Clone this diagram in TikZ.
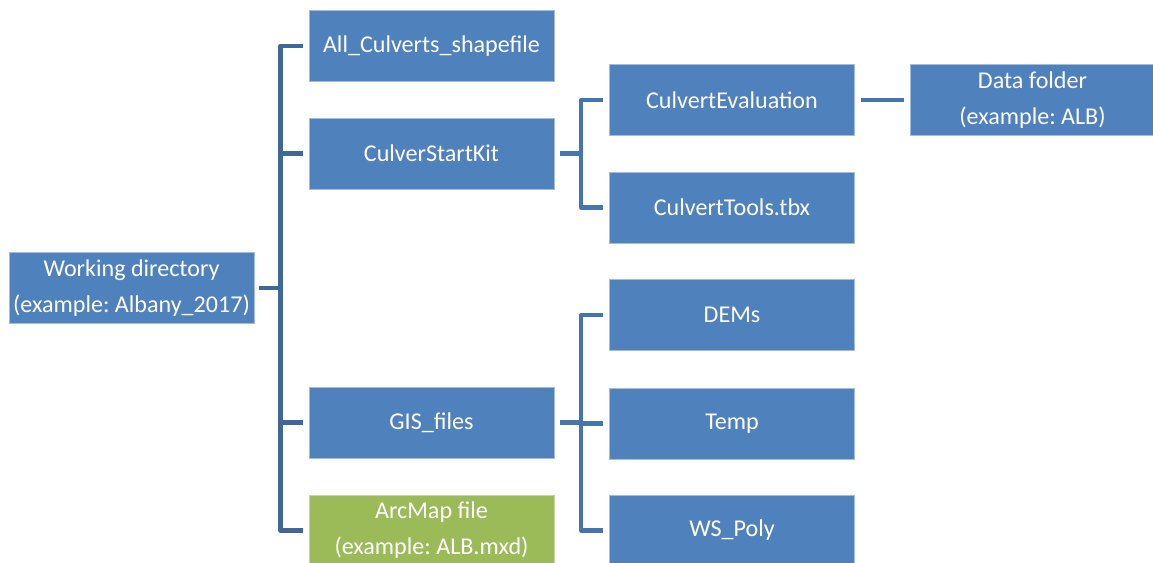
\documentclass[tikz,border=0pt]{standalone}
\usepackage{fontspec}
\setmainfont{Carlito}
\usetikzlibrary{calc}
\frenchspacing
\definecolor{boxblue}{HTML}{4F81BD}
\definecolor{boxgreen}{HTML}{9BBB59}
\definecolor{edgeblue}{HTML}{A3BCDD}
\definecolor{edgegreen}{HTML}{C5D8A0}
\definecolor{linedark}{HTML}{3F6898}
\definecolor{linemid}{HTML}{4675AD}
\tikzset{
  x=1pt, y=-1pt,
  item/.style={rectangle, fill=boxblue, draw=edgeblue, line width=0.7pt,
    minimum width=245pt, minimum height=71pt, inner sep=0pt, align=center,
    text=white, font=\fontsize{24.1}{36}\selectfont},
  greenitem/.style={item, fill=boxgreen, draw=edgegreen},
  connA/.style={draw=linedark, line width=4.5pt, line join=round},
  connB/.style={draw=linemid, line width=4.5pt, line join=round},
}
\begin{document}
\begin{tikzpicture}
\useasboundingbox (0,0) rectangle (1153,562);
\clip (0,0) rectangle (1153,562);
\fill[white] (0,0) rectangle (1153,562);
% nodes
\node[item] (wd) at (131.5,288) {Working directory\\(example: Albany\_2017)};
\node[item] (ac) at (431.5,46) {All\_Culverts\_shapefile};
\node[item] (csk) at (431.5,153.5) {CulverStartKit};
\node[item] (gis) at (431.5,422.5) {GIS\_files};
\node[greenitem] (arc) at (431.5,530.5) {ArcMap file\\(example: ALB.mxd)};
\node[item] (ce) at (732,100) {CulvertEvaluation};
\node[item] (ct) at (732,207.5) {CulvertTools.tbx};
\node[item] (dems) at (732,315) {DEMs};
\node[item] (temp) at (732,423.5) {Temp};
\node[item] (ws) at (732,530.5) {WS\_Poly};
\node[item] (df) at (1032.5,100) {Data folder\\(example: ALB)};
% level 1 bracket
\draw[connA] ([xshift=5pt]wd.east) -- ($(wd.east)+(27,0)$);
\draw[connA] ([xshift=-6pt]ac.west) -- ([xshift=-28pt]ac.west) -- ([xshift=-28pt]arc.west) -- ([xshift=-6pt]arc.west);
\draw[connA] ([xshift=-6pt]csk.west) -- ([xshift=-28pt]csk.west);
\draw[connA] ([xshift=-6pt]gis.west) -- ([xshift=-28pt]gis.west);
% CulverStartKit bracket
\draw[connB] ([xshift=6pt]csk.east) -- ([xshift=28pt]csk.east);
\draw[connB] ([xshift=-6pt]ce.west) -- ([xshift=-28pt]ce.west) -- ([xshift=-28pt]ct.west) -- ([xshift=-6pt]ct.west);
% GIS_files bracket
\draw[connB] ([xshift=6pt]gis.east) -- ([xshift=28pt]gis.east);
\draw[connB] ([xshift=-6pt]dems.west) -- ([xshift=-28pt]dems.west) -- ([xshift=-28pt]ws.west) -- ([xshift=-6pt]ws.west);
\draw[connB] ([xshift=-6pt]temp.west) -- ([xshift=-28pt]temp.west);
% data folder
\draw[connB] ([xshift=6pt]ce.east) -- ([xshift=-6pt]df.west);
\end{tikzpicture}
\end{document}
